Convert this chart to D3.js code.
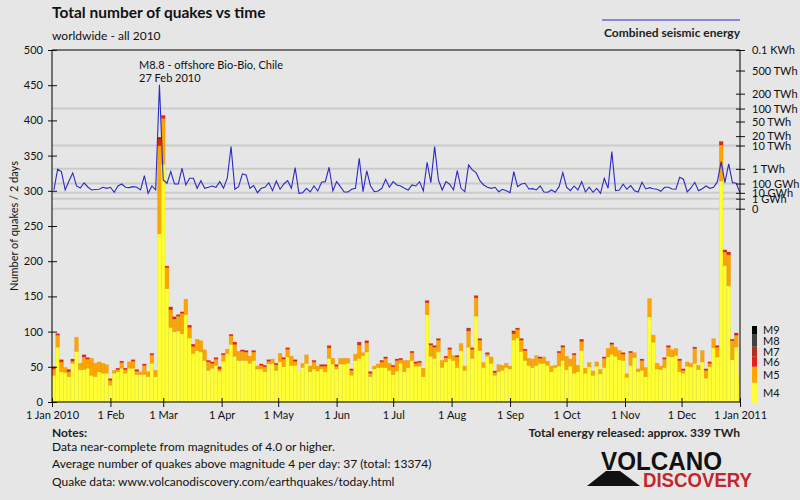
<!DOCTYPE html>
<html><head><meta charset="utf-8">
<script src="https://cdn.jsdelivr.net/npm/d3@7"></script>
<style>
html,body{margin:0;padding:0;background:#e6e6e6;}
svg{display:block;font-family:Lato,"Open Sans",sans-serif;}
</style></head>
<body><svg id="chart" width="800" height="500"></svg>
<script>
// ---------- DATA ----------
const title = "Total number of quakes vs time";
const subtitle = "worldwide - all 2010";
const yTicks = [0,50,100,150,200,250,300,350,400,450,500];
const magLabels = ["M4","M5","M6","M7","M8","M9"];
// quakes per 2-day bin, by magnitude class (bin 0 = 1-2 Jan 2010)
const m4 = [38,78,43,42,36,55,72,46,46,48, 38,36,43,41,41,24,41,43,48,41,
  48,48,39,39,39,36,55,36,239,338, 161,106,100,101,97,124,91,69,73,71,
  59,45,48,52,44,58,69,82,65,59, 59,59,55,59,47,47,43,54,55,45,
  57,50,64,52,52,44,49,55,43,47, 44,47,43,62,54,47,54,54,55,38,
  59,62,66,71,36,47,49,49,49,45, 39,44,55,43,49,59,51,51,36,124,
  65,62,72,49,57,62,59,49,73,45, 78,62,122,73,49,65,55,38,43,45,
  49,47,88,91,72,59,52,49,52,55, 55,52,43,49,51,59,46,51,41,43,
  73,41,50,38,51,40,49,64,68,65, 60,59,35,52,63,43,45,36,121,85,
  47,46,49,65,64,66,43,41,51,50, 55,46,57,34,50,77,64,314,194,165,
  60,78,36];
const m5 = [9,17,14,7,7,3,20,9,18,13, 24,19,14,14,12,7,4,3,8,5,
  9,10,5,4,13,7,12,9,125,65, 30,25,18,21,29,22,15,10,16,16,
  15,12,7,9,3,9,6,12,17,13, 13,12,10,12,4,5,7,4,6,8,
  12,11,11,13,6,0,6,12,8,10, 7,4,8,15,8,4,8,8,7,7,
  9,19,4,13,5,4,5,8,13,10, 11,15,5,16,10,11,4,5,12,17,
  16,16,16,10,6,13,7,15,10,6, 23,13,26,15,7,3,9,4,10,7,
  6,4,9,12,16,14,10,12,14,7, 9,6,8,3,19,19,19,10,26,9,
  13,7,6,6,6,6,13,12,14,13, 13,9,5,18,7,4,14,13,26,10,
  8,5,12,13,10,10,16,4,6,5, 21,6,16,11,5,13,14,51,19,44,
  27,17,0];
const m6 = [3,2,3,0,3,3,0,0,3,2, 0,0,0,0,0,2,0,2,2,2,
  0,2,2,0,2,0,2,0,8,4, 2,4,3,2,2,0,3,3,0,0,
  0,2,2,2,3,2,0,2,3,0, 2,2,0,2,0,2,2,2,0,2,
  0,2,2,0,0,0,0,0,0,2, 0,2,2,3,0,2,0,0,0,2,
  0,2,0,3,2,0,0,2,2,0, 2,2,2,0,0,2,2,2,0,2,
  2,0,2,0,2,2,0,0,0,0, 2,2,3,2,0,2,0,2,0,0,
  0,0,2,2,2,2,0,0,0,2, 0,0,0,0,2,0,0,0,2,0,
  3,0,0,0,0,0,2,0,0,0, 0,2,0,2,0,0,2,0,0,0,
  0,0,2,2,0,0,2,2,0,0, 2,0,0,2,2,0,2,4,3,2,
  2,3,0];
// sparse classes: [bin index, count]
const m7Events = [[28,3],[64,2],[81,2],[99,1],[101,2],[107,2],[110,2],[122,2],[135,2],[148,2],[177,1],[179,2]];
const m8Events = [[28,1]];
const m9Events = [];
// combined seismic energy per 2-day bin, GWh
const energy = [23,950,693,23,163,580,60,38,112,48, 23,26,27.5,45,35,45,11.9,60,92,45,
  41,51.5,45,23,391,8.7,60,23,289645,195, 106,693,92,92,1076,75,260,260,35,172,
  35,45,60,45,143.5,35,273,9161,27.5,51.5, 503,435,35,64.4,10.5,35,45,119,18.9,163,
  27.5,92,172,35,1159,8.7,10.5,35,13,60, 17.4,128,143.5,1216,17.4,143.5,51.5,13,13,27.5,
  35,3252,14.2,762,60,14.2,17.4,35,220,45, 143.5,75,60,35,23,75,60,143.5,17.4,2151,
  119,9161,195,23,143.5,86.5,23,792,35,14.2, 1594,868,605,172,75,45,35,45,14.2,27.5,
  18.9,10.5,693,51.5,92,106,30,32,23,60, 13,11.9,23,11.9,51.5,605,45,18.9,60,23,
  143.5,13,45,11.9,35,8.7,260,35,6017,18.9, 23,86.5,27.5,64.4,18.9,13,128,30,41,32,
  27.5,16,45,45,30,27.5,305,220,13,38, 128,18.9,32,60,35,45,143.5,2293,119,1784,
  119,106,10.5];
// right axis (energy, GWh) ticks and labels
const eTicks  = [1e6, 5e5, 2e5, 1e5, 5e4, 2e4, 1e4, 1e3, 100, 10, 1, 0];
const eLabels = ["0.1 KWh","500 TWh","200 TWh","100 TWh","50 TWh","20 TWh","10 TWh","1 TWh","100 GWh","10 GWh","1 GWh","0"];
const eGrid = [1e5, 1e4, 1e3, 100, 10, 1, 0];
const annotation = ["M8.8 - offshore Bio-Bio, Chile", "27 Feb 2010"];
const notes = ["Data near-complete from magnitudes of 4.0 or higher.",
  "Average number of quakes above magnitude 4 per day: 37 (total: 13374)",
  "Quake data: www.volcanodiscovery.com/earthquakes/today.html"];
const totalEnergyText = "Total energy released: approx. 339 TWh";

// ---------- LAYOUT ----------
const L = 52, R = 740, T = 50, B = 402;
const colors = ["#ffff33","#ffa500","#ee1b1b","#b32f1c","#404040","#000000"];
const svg = d3.select("#chart");
const x = d3.scaleTime().domain([new Date(2010,0,1), new Date(2011,0,1)]).range([L, R]);
const y = d3.scaleLinear().domain([0, 500]).range([B, T]);
const yE = d3.scalePow().exponent(0.2).domain([0, 1e6]).range([208.7, T]);

const n = m4.length;
const sparse = ev => { const a = new Array(n).fill(0); ev.forEach(([i,c]) => a[i] = c); return a; };
const m7 = sparse(m7Events), m8 = sparse(m8Events), m9 = sparse(m9Events);
const series = [m4, m5, m6, m7, m8, m9];
const end = new Date(2011,0,1);
const bins = d3.range(n).map(i => {
  const s = d3.timeDay.offset(new Date(2010,0,1), 2*i);
  let e = d3.timeDay.offset(s, 2);
  return {i, s, e, vals: series.map(a => a[i])};
});

// gridlines for energy axis
svg.append("g").selectAll("line").data(eGrid).join("line")
  .attr("x1", L).attr("x2", R)
  .attr("y1", d => yE(d)).attr("y2", d => yE(d))
  .attr("stroke", "#cbcbcb").attr("stroke-width", 2);

// stacked bars
const barG = svg.append("g");
bins.forEach(b => {
  let acc = 0;
  const x0 = x(b.s), x1 = Math.min(x(b.e), R);
  b.vals.forEach((v, k) => {
    if (v <= 0) return;
    barG.append("rect")
      .attr("x", x0).attr("width", Math.max(0, x1 - x0))
      .attr("y", y(acc + v)).attr("height", y(acc) - y(acc + v))
      .attr("fill", colors[k])
      .attr("stroke", d3.color(colors[k]).darker(0.7)).attr("stroke-opacity", 0.35).attr("stroke-width", 0.6);
    acc += v;
  });
});

// energy line
const line = d3.line().x((d, i) => { const b = bins[i]; return (x(b.s) + Math.min(x(b.e), R + 2)) / 2; }).y(d => yE(d));
svg.append("path").datum(energy).attr("d", line)
  .attr("fill", "none").attr("stroke", "#2b2bc4").attr("stroke-width", 1.1);

// axes frame
svg.append("line").attr("x1", L).attr("x2", R).attr("y1", T).attr("y2", T).attr("stroke", "#000");
const tickFont = g => g.selectAll("text").attr("font-size", 11).attr("fill", "#111").attr("font-family", "Lato, sans-serif");

const yAxis = svg.append("g").attr("transform", `translate(${L},0)`)
  .call(d3.axisLeft(y).tickValues(yTicks).tickSize(4).tickPadding(5));
yAxis.selectAll(".tick line").attr("x1", 5);
yAxis.select(".domain").attr("d", `M0,${T}V${B}`);
tickFont(yAxis);

const fmt = d => d.getMonth() === 0 ? d3.timeFormat("%-d %b %Y")(d) : d3.timeFormat("%-d %b")(d);
const xAxis = svg.append("g").attr("transform", `translate(0,${B})`)
  .call(d3.axisBottom(x).ticks(d3.timeMonth.every(1)).tickFormat(fmt).tickSize(5).tickPadding(4));
xAxis.selectAll(".tick line").attr("y1", -4);
xAxis.select(".domain").attr("d", `M${L},0H${R}`);
tickFont(xAxis);

const rAxis = svg.append("g").attr("transform", `translate(${R},0)`)
  .call(d3.axisRight(yE).tickValues(eTicks).tickFormat((d, i) => eLabels[i]).tickSize(5).tickPadding(7));
rAxis.selectAll(".tick line").attr("x1", -4);
rAxis.select(".domain").attr("d", `M0,${T}V${B}`);
tickFont(rAxis);
svg.selectAll(".domain").attr("stroke", "#000");
svg.selectAll(".tick line").attr("stroke", "#111");

// y label
svg.append("text").attr("transform", "translate(18,226) rotate(-90)")
  .attr("text-anchor", "middle").attr("font-size", 11).attr("fill", "#111")
  .text("Number of quakes / 2 days");

// titles
svg.append("text").attr("x", L).attr("y", 18).attr("font-size", 15.5).attr("font-weight", "bold").attr("fill", "#111").text(title);
svg.append("text").attr("x", L).attr("y", 40).attr("font-size", 12).attr("fill", "#111").text(subtitle);

// energy legend
svg.append("line").attr("x1", 602).attr("x2", R).attr("y1", 20).attr("y2", 20).attr("stroke", "#2b2bc4").attr("stroke-width", 1.1);
svg.append("text").attr("x", R).attr("y", 37).attr("text-anchor", "end").attr("font-size", 12).attr("font-weight", "bold").attr("fill", "#222").text("Combined seismic energy");

// annotation
svg.append("text").attr("x", 139).attr("y", 69).attr("font-size", 11).attr("fill", "#111").text(annotation[0]);
svg.append("text").attr("x", 139).attr("y", 82).attr("font-size", 11).attr("fill", "#111").text(annotation[1]);

// magnitude legend
const legBoxes = [[382.7,402.7],[366.7,382.7],[356.7,366.7],[346.7,356.7],[334.5,346.7],[326,334.5]];
const legG = svg.append("g");
magLabels.forEach((m, k) => {
  const [y0, y1] = legBoxes[k];
  legG.append("rect").attr("x", 752).attr("y", y0).attr("width", 5).attr("height", y1 - y0).attr("fill", colors[k]);
  legG.append("text").attr("x", 763).attr("y", (y0 + y1) / 2 + 4).attr("font-size", 11).attr("fill", "#111").text(m);
});

// notes
svg.append("text").attr("x", L).attr("y", 437).attr("font-size", 12).attr("font-weight", "bold").attr("fill", "#222").text("Notes:");
notes.forEach((t, k) => svg.append("text").attr("x", L).attr("y", 451 + k * 17.3).attr("font-size", 12).attr("fill", "#111").text(t));
svg.append("text").attr("x", R).attr("y", 437).attr("text-anchor", "end").attr("font-size", 12).attr("font-weight", "bold").attr("fill", "#222").text(totalEnergyText);

// logo
const logo = svg.append("g");
logo.append("text").attr("x", 601).attr("y", 470).attr("font-size", 25).attr("font-weight", "900")
  .attr("font-family", "'Liberation Sans Narrow','Liberation Sans',Arial,sans-serif")
  .attr("textLength", 121).attr("lengthAdjust", "spacingAndGlyphs").attr("fill", "#111").text("VOLCANO");
logo.append("text").attr("x", 643).attr("y", 487).attr("font-size", 20.5).attr("font-weight", "bold")
  .attr("font-family", "'Liberation Sans Narrow','Liberation Sans',Arial,sans-serif")
  .attr("textLength", 109).attr("lengthAdjust", "spacingAndGlyphs").attr("fill", "#c1272d").text("DISCOVERY");
logo.append("path").attr("d", "M587,486 L606,471 L620,471 L640,486 Z").attr("fill", "#111");
</script></body></html>
